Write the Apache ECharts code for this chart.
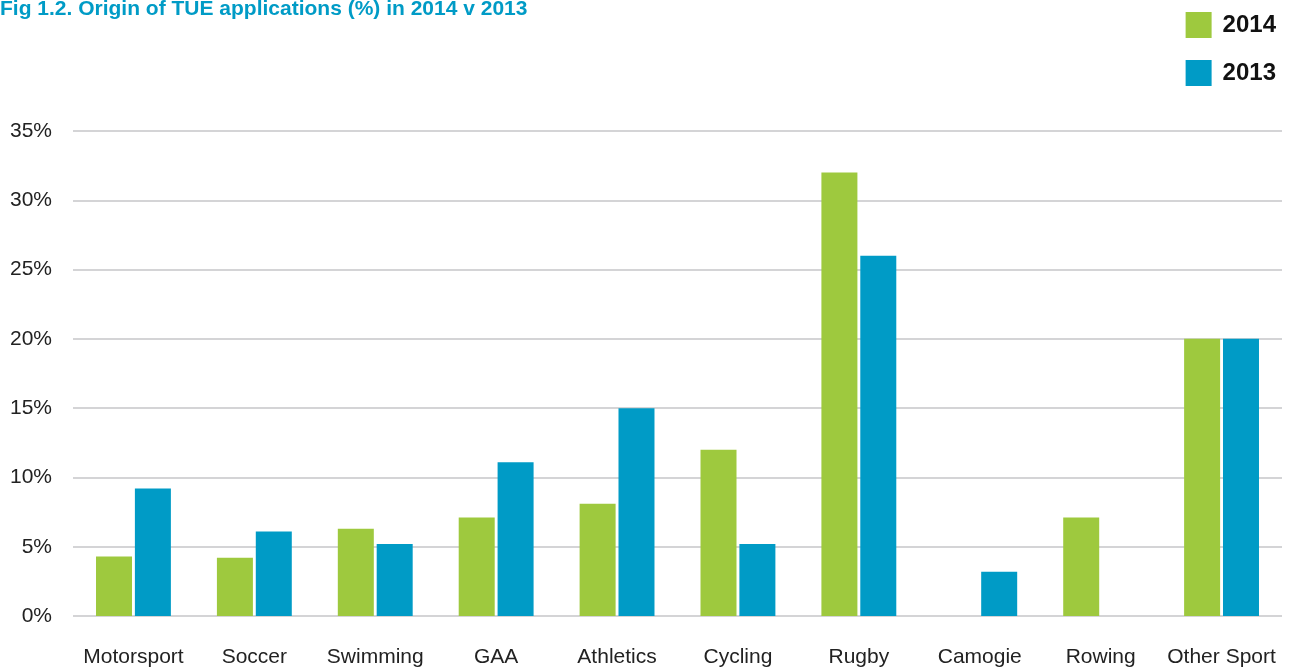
<!DOCTYPE html>
<html>
<head>
<meta charset="utf-8">
<script src="https://cdn.jsdelivr.net/npm/echarts@6/dist/echarts.min.js"></script>
<style>html,body{margin:0;padding:0;background:#fff}#c{width:1296px;height:669px}</style>
</head>
<body>
<div id="c"></div>
<script>
const categories = ['Motorsport','Soccer','Swimming','GAA','Athletics','Cycling','Rugby','Camogie','Rowing','Other Sport'];
const values2014 = [4.3, 4.2, 6.3, 7.1, 8.1, 12.0, 32.0, null, 7.1, 20.0];
const values2013 = [9.2, 6.1, 5.2, 11.1, 15.0, 5.2, 26.0, 3.2, null, 20.0];
const titleText = 'Fig 1.2. Origin of TUE applications (%) in 2014 v 2013';

const chart = echarts.init(document.getElementById('c'));
chart.setOption({
  animation: false,
  title: {
    text: titleText, left: 0, top: -1, padding: 0,
    textStyle: {color: '#009bc6', fontSize: 21, fontWeight: 'bold', fontFamily: 'Liberation Sans'}
  },
  legend: {
    orient: 'vertical', right: 20, top: 12, padding: 0,
    itemWidth: 26, itemHeight: 26, itemGap: 22,
    icon: 'rect',
    textStyle: {fontSize: 24, fontWeight: 'bold', color: '#111', fontFamily: 'Liberation Sans', padding: [0,0,0,6]},
    data: ['2014','2013']
  },
  grid: {left: 73, right: 14, top: 131, bottom: 53, containLabel: false},
  xAxis: {
    type: 'category', data: categories,
    axisLine: {show: false}, axisTick: {show: false},
    axisLabel: {interval: 0, fontSize: 21, color: '#222', margin: 31, fontFamily: 'Liberation Sans'}
  },
  yAxis: {
    type: 'value', min: 0, max: 35, interval: 5,
    axisLine: {show: false}, axisTick: {show: false},
    axisLabel: {formatter: '{value}%', fontSize: 21, color: '#222', margin: 21, fontFamily: 'Liberation Sans'},
    splitLine: {lineStyle: {color: '#d4d4d6', width: 2}}
  },
  series: [
    {name: '2014', type: 'bar', data: values2014, barWidth: 36, barGap: '8%', itemStyle: {color: '#9ec93e'}},
    {name: '2013', type: 'bar', data: values2013, barWidth: 36, itemStyle: {color: '#009bc6'}}
  ]
});
</script>
</body>
</html>
